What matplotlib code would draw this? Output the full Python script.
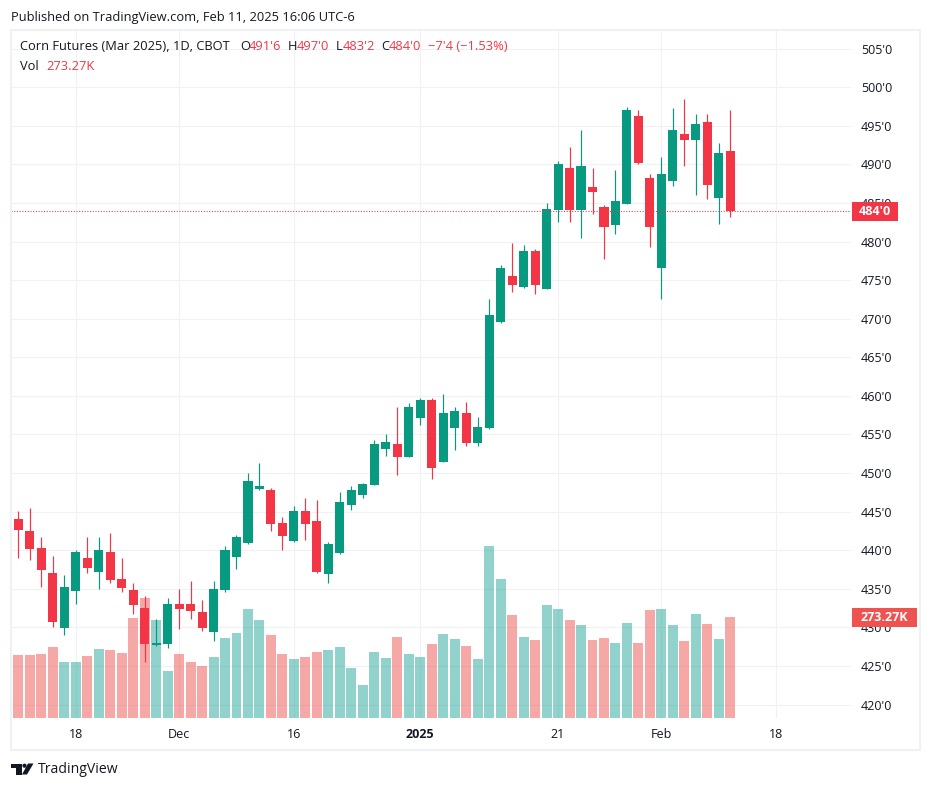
import matplotlib
matplotlib.use("Agg")
import matplotlib.pyplot as plt
from matplotlib.patches import Rectangle, Polygon, Circle

opens = [444.0, 442.5, 440.3, 437.0, 429.9, 434.7, 439.0, 437.2, 439.8, 436.3,
         434.8, 432.5, 427.7, 427.8, 433.0, 433.0, 432.0, 429.4, 434.8, 439.1,
         440.9, 447.9, 447.8, 443.5, 441.2, 445.1, 443.8, 436.9, 439.6, 445.9,
         447.2, 448.5, 453.1, 453.8, 452.1, 457.1, 459.5, 451.4, 455.8, 457.8,
         453.9, 455.8, 469.6, 475.5, 474.1, 478.8, 473.9, 484.1, 489.5, 484.1,
         487.1, 484.5, 482.2, 484.9, 496.3, 488.2, 476.6, 487.9, 494.0, 493.2,
         495.5, 485.7, 491.75]
highs = [445.1, 445.5, 441.7, 439.2, 436.8, 440.0, 441.7, 441.7, 442.2, 439.0,
         435.7, 434.1, 431.1, 433.8, 435.0, 436.0, 433.5, 436.0, 440.5, 442.0,
         450.0, 451.3, 448.1, 444.3, 445.7, 446.8, 446.5, 441.1, 447.5, 448.3,
         448.7, 454.3, 455.1, 458.6, 459.1, 459.7, 459.7, 460.3, 458.6, 459.2,
         457.3, 472.6, 477.0, 479.8, 479.6, 479.0, 485.0, 490.5, 492.3, 494.5,
         489.5, 484.7, 489.3, 497.5, 497.1, 488.8, 491.0, 497.3, 498.5, 496.5,
         496.5, 492.8, 497.0]
lows = [439.0, 438.7, 435.2, 430.0, 429.0, 433.0, 437.0, 435.0, 435.7, 434.6,
        431.7, 425.5, 427.6, 427.3, 429.8, 431.1, 429.5, 428.2, 434.6, 437.6,
        440.8, 447.8, 442.5, 440.0, 441.1, 441.3, 437.0, 435.8, 439.5, 445.2,
        446.8, 448.4, 452.2, 449.8, 452.1, 456.2, 449.2, 451.4, 453.0, 453.5,
        453.5, 455.7, 469.5, 473.5, 474.0, 473.2, 473.9, 482.5, 482.5, 480.5,
        483.6, 477.7, 481.0, 484.9, 490.1, 479.3, 472.6, 487.2, 489.8, 486.0,
        485.5, 482.3, 483.25]
closes = [442.6, 440.2, 437.4, 430.7, 435.2, 439.8, 437.7, 440.0, 436.1, 435.1,
          432.9, 427.8, 428.0, 433.0, 432.4, 432.1, 429.9, 435.0, 440.0, 441.7,
          449.0, 448.3, 443.4, 441.8, 445.1, 443.4, 437.2, 440.8, 446.3, 447.8,
          448.6, 453.8, 454.0, 452.1, 458.6, 459.5, 450.7, 457.8, 458.0, 453.9,
          456.0, 470.5, 476.6, 474.4, 478.8, 474.4, 484.2, 490.1, 484.1, 489.8,
          486.4, 481.9, 485.3, 497.1, 490.2, 481.9, 488.8, 494.5, 493.2, 495.2,
          487.3, 491.5, 484.0]
# volume in thousands
volumes = [170.5, 170.5, 173.2, 192.1, 151.5, 151.5, 167.8, 186.7, 184.0, 175.9,
           270.6, 324.7, 265.2, 127.2, 173.2, 151.5, 140.7, 165.1, 216.5, 230.0,
           295.0, 265.2, 224.6, 173.2, 159.7, 165.1, 178.6, 184.0, 192.1, 135.3,
           89.3, 178.6, 162.4, 219.2, 173.2, 165.1, 200.2, 227.3, 213.8, 194.8,
           159.7, 465.4, 376.1, 278.7, 219.2, 211.1, 305.8, 295.0, 265.2, 251.7,
           211.1, 216.5, 203.0, 257.1, 203.0, 292.2, 295.0, 251.7, 208.4, 281.4,
           254.4, 213.8, 273.27]
prev_volume = 224.6

price_ticks = [420, 425, 430, 435, 440, 445, 450, 455, 460, 465, 470,
               475, 480, 485, 490, 495, 500, 505]
price_labels = [str(p) + "'0" for p in price_ticks]
date_ticks = [5, 14, 24, 35, 47, 56, 66]
date_labels = ["18", "Dec", "16", "2025", "21", "Feb", "18"]
last_price = 484.0

GREEN = "#089981"
RED = "#F23645"
VOL_GREEN = "#26a69a"
VOL_RED = "#ef5350"
TEXT = "#131722"
GRID = "#f0f1f3"
FONT = "Open Sans"
W, H = 931, 789

plt.rcParams["font.family"] = FONT

fig = plt.figure(figsize=(W / 100, H / 100), dpi=100)

# pane rectangle in pixels
left, right, top, bottom = 11, 851, 31, 718
pane = [left / W, 1 - bottom / H, (right - left) / W, (bottom - top) / H]

ax = fig.add_axes(pane, zorder=1)
ax_vol = fig.add_axes(pane, zorder=2)
ax_top = fig.add_axes(pane, zorder=3, sharex=ax, sharey=ax)

# one bar is 11.484 px, first candle centred at 18.3 px
ax.set_xlim((left - 18.3) / 11.484, (right - 18.3) / 11.484)
# 7.715 px per cent, 420 sits at 704.5 px
ax.set_ylim(420 + (704.5 - bottom) / 7.715, 420 + (704.5 - top) / 7.715)
ax_vol.set_xlim(ax.get_xlim())
ax_vol.set_ylim(0, (bottom - top) * 2.706)

ax.set_yticks(price_ticks)
ax.set_yticklabels(price_labels)
ax.yaxis.tick_right()
ax.set_xticks(date_ticks)
ax.set_xticklabels(date_labels)
ax.tick_params(axis="y", length=0, pad=7, labelsize=9, labelcolor=TEXT)
ax.tick_params(axis="x", length=0, pad=7, labelsize=9, labelcolor=TEXT)
ax.get_xticklabels()[3].set_fontweight("bold")
ax.grid(True, color=GRID, linewidth=0.75)
ax.set_axisbelow(True)

for a in [ax, ax_vol, ax_top]:
    for s in a.spines.values():
        s.set_visible(False)
for a in [ax_vol, ax_top]:
    a.patch.set_visible(False)
    a.tick_params(left=False, right=False, bottom=False, top=False,
                  labelleft=False, labelright=False, labelbottom=False)

idx = list(range(len(opens)))
colors = [RED if c < o else GREEN for o, c in zip(opens, closes)]
vol_colors = [VOL_RED if c < o else VOL_GREEN for o, c in zip(opens, closes)]

ax_vol.bar([-1] + idx, [prev_volume] + volumes, width=0.87,
           color=[VOL_GREEN] + vol_colors, alpha=0.5, linewidth=0)

ax_top.vlines(idx, lows, highs, colors=colors, linewidth=0.85)
ax_top.bar(idx, [abs(c - o) for o, c in zip(opens, closes)],
           bottom=[min(o, c) for o, c in zip(opens, closes)],
           width=0.79, color=colors, linewidth=0)
ax_top.axhline(last_price, color=RED, linewidth=0.75, linestyle=(0, (1, 1.6)))


def put(x, y, s, color=TEXT, size=9.3, weight="normal", ha="left"):
    fig.text(x / W, 1 - y / H, s, color=color, fontsize=size, fontweight=weight,
             ha=ha, va="center", zorder=12)


def box(x0, y0, x1, y1, color):
    fig.add_artist(Rectangle((x0 / W, 1 - y1 / H), (x1 - x0) / W, (y1 - y0) / H,
                             transform=fig.transFigure, facecolor=color,
                             edgecolor="none", zorder=11))


# outer frame
fig.add_artist(Rectangle((11 / W, 1 - 750 / H), 909 / W, 720 / H,
                         transform=fig.transFigure, facecolor="none",
                         edgecolor="#f0f1f3", linewidth=1.5, zorder=10))

# price tags on the axis
box(852, 202, 898, 221, RED)
put(875, 211.5, "484'0", color="white", size=9, weight="bold", ha="center")
box(852, 608, 917, 627, VOL_RED)
put(884.5, 617.5, "273.27K", color="white", size=9, weight="bold", ha="center")

# header and legend
put(11, 17.5, "Published on TradingView.com, Feb 11, 2025 16:06 UTC-6")
put(20, 47, "Corn Futures (Mar 2025), 1D, CBOT")
for x, s in [(240, "O"), (288, "H"), (336, "L"), (381, "C")]:
    put(x, 47, s)
for x, s in [(249, "491'6"), (297, "497'0"), (343, "483'2"), (389, "484'0"),
             (428, "\u22127'4 (\u22121.53%)")]:
    put(x, 47, s, color=RED)
put(20, 66, "Vol")
put(46, 66, "273.27K", color=RED)

# logo
def logo(shape):
    fig.add_artist(shape)


logo(Polygon([(11 / W, 1 - 763.5 / H), (22 / W, 1 - 763.5 / H), (22 / W, 1 - 774.5 / H),
              (16 / W, 1 - 774.5 / H), (16 / W, 1 - 768 / H), (11 / W, 1 - 768 / H)],
             transform=fig.transFigure, facecolor="#131722", edgecolor="none"))
logo(Circle((24.5, H - 765.7), 2.1, transform=None, facecolor="#131722", edgecolor="none"))
logo(Polygon([(28 / W, 1 - 763.5 / H), (33.5 / W, 1 - 763.5 / H), (27 / W, 1 - 774.5 / H),
              (22 / W, 1 - 774.5 / H)],
             transform=fig.transFigure, facecolor="#131722", edgecolor="none"))
put(38, 769.5, "TradingView", size=10.1)

fig.savefig("out.png", dpi=100)
